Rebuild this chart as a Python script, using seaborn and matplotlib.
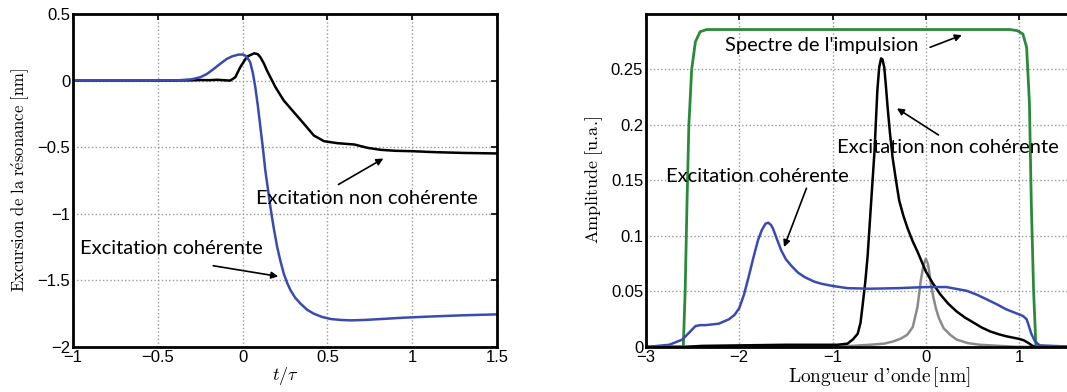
import numpy as np
import pandas as pd
import seaborn as sns
from matplotlib import pyplot as plt

# Excursion de la résonance (panneau de gauche)
t_noncoh = [-1.0, -0.5, -0.3, -0.25, -0.2, -0.15, -0.1, -0.073, -0.043, -0.014, 0.026, 0.069, 0.09, 0.105,
            0.125, 0.144, 0.17, 0.194, 0.243, 0.302, 0.362, 0.42, 0.48, 0.56, 0.66, 0.737, 0.816, 0.9,
            1.0, 1.13, 1.3, 1.5]
y_noncoh = [0.0, 0.0, 0.002, 0.004, 0.003, 0.006, 0.002, 0.0, 0.025, 0.1, 0.18, 0.205, 0.198, 0.175,
            0.13, 0.075, 0.01, -0.05, -0.15, -0.237, -0.325, -0.412, -0.455, -0.47, -0.48, -0.505, -0.52, -0.527,
            -0.53, -0.537, -0.543, -0.547]
t_coh = [-1.0, -0.5, -0.37, -0.3, -0.25, -0.21, -0.17, -0.13, -0.093, -0.06, -0.024, 0.0, 0.016, 0.03,
         0.045, 0.06, 0.075, 0.09, 0.105, 0.12, 0.134, 0.15, 0.164, 0.184, 0.204, 0.224, 0.243, 0.263,
         0.283, 0.31, 0.342, 0.38, 0.42, 0.47, 0.52, 0.58, 0.64, 0.72, 0.816, 0.95, 1.13, 1.3, 1.5]
y_coh = [0.0, 0.0, 0.003, 0.01, 0.025, 0.05, 0.088, 0.128, 0.163, 0.183, 0.195, 0.196, 0.188, 0.168,
         0.137, 0.06, -0.05, -0.19, -0.35, -0.51, -0.675, -0.82, -0.95, -1.11, -1.25, -1.36, -1.45, -1.52,
         -1.575, -1.63, -1.675, -1.72, -1.75, -1.775, -1.79, -1.797, -1.8, -1.797, -1.79, -1.78, -1.77, -1.762, -1.755]

# Spectres (panneau de droite)
l_impulsion = [-3.0, -2.6, -2.58, -2.56, -2.54, -2.51, -2.47, -2.42, -2.35, -2.2, 0.9, 0.98, 1.04, 1.08,
               1.11, 1.13, 1.155, 1.18, 2.0]
a_impulsion = [0.0, 0.0, 0.05, 0.13, 0.2, 0.25, 0.275, 0.284, 0.286, 0.286, 0.286, 0.285, 0.282, 0.27,
               0.22, 0.13, 0.05, 0.0, 0.0]
l_noncoh = [-3.0, -2.6, -2.4, -1.5, -0.95, -0.84, -0.78, -0.73, -0.7, -0.68, -0.65, -0.625, -0.59, -0.55,
            -0.52, -0.5, -0.48, -0.465, -0.446, -0.43, -0.41, -0.385, -0.357, -0.32, -0.286, -0.24, -0.196,
            -0.14, -0.09, -0.04, 0.0, 0.07, 0.153, 0.24, 0.33, 0.42, 0.51, 0.6, 0.69, 0.78, 0.86, 0.93,
            1.0, 1.05, 1.1, 1.14, 1.17, 2.0]
a_noncoh = [0.0, 0.0, 0.001, 0.002, 0.002, 0.003, 0.007, 0.012, 0.022, 0.036, 0.058, 0.081, 0.126, 0.177,
            0.231, 0.252, 0.26, 0.259, 0.252, 0.237, 0.216, 0.193, 0.171, 0.15, 0.132, 0.118, 0.107,
            0.095, 0.086, 0.076, 0.068, 0.058, 0.0476, 0.039, 0.032, 0.0265, 0.022, 0.0175, 0.014, 0.0115, 0.0097, 0.0085,
            0.0073, 0.006, 0.0036, 0.0012, 0.0, 0.0]
l_coh = [-3.0, -2.75, -2.61, -2.54, -2.47, -2.42, -2.36, -2.22, -2.11, -2.05, -2.0, -1.95, -1.9, -1.85,
         -1.8, -1.76, -1.72, -1.69, -1.66, -1.64, -1.6, -1.55, -1.5, -1.44, -1.37, -1.3, -1.2, -1.12, -1.0,
         -0.84, -0.6, -0.3, 0.0, 0.22, 0.44, 0.55, 0.65, 0.76, 0.86, 0.95, 1.04, 1.08, 1.1, 1.13, 1.17,
         1.22, 1.35, 1.47, 2.0]
a_coh = [0.0, 0.002, 0.0067, 0.0127, 0.0188, 0.0197, 0.0197, 0.021, 0.025, 0.029, 0.035, 0.047, 0.063, 0.08,
         0.096, 0.105, 0.111, 0.112, 0.11, 0.107, 0.098, 0.087, 0.079, 0.073, 0.067, 0.063, 0.059, 0.057, 0.055,
         0.053, 0.0525, 0.053, 0.054, 0.054, 0.0506, 0.047, 0.043, 0.0385, 0.034, 0.031, 0.028, 0.025, 0.02, 0.012, 0.005,
         0.0015, 0.001, 0.0006, 0.0]
l_reson = [-3.0, -0.8, -0.6, -0.45, -0.35, -0.27, -0.2, -0.14, -0.09, -0.054, -0.025, 0.0, 0.025, 0.054,
           0.08, 0.107, 0.14, 0.19, 0.26, 0.33, 0.45, 0.58, 0.94, 1.2, 2.0]
a_reson = [0.0, 0.001, 0.002, 0.003, 0.005, 0.0075, 0.011, 0.018, 0.036, 0.06, 0.074, 0.0796, 0.074, 0.057,
           0.045, 0.035, 0.026, 0.017, 0.011, 0.0067, 0.0035, 0.002, 0.0003, 0.0, 0.0]

bleu = "#3a4bb0"
vert = "#2a8a3a"
gris = "#8a8a8a"

sns.set_style("white")
plt.rcParams["mathtext.fontset"] = "cm"
plt.rcParams["font.family"] = ["Liberation Sans", "DejaVu Sans"]
plt.rcParams["text.color"] = "black"
plt.rcParams["axes.labelcolor"] = "black"

fig = plt.figure(figsize=(10.67, 3.92), dpi=100)
axG = fig.add_axes([0.0684, 0.1148, 0.3974, 0.8495])
axD = fig.add_axes([0.6054, 0.1148, 0.4372, 0.8495])

sns.lineplot(data=pd.DataFrame({"t": t_noncoh, "y": y_noncoh}), x="t", y="y", ax=axG, color="black", lw=1.8)
sns.lineplot(data=pd.DataFrame({"t": t_coh, "y": y_coh}), x="t", y="y", ax=axG, color=bleu, lw=1.8)

sns.lineplot(data=pd.DataFrame({"l": l_impulsion, "a": a_impulsion}), x="l", y="a", ax=axD, color=vert, lw=2.0)
sns.lineplot(data=pd.DataFrame({"l": l_reson, "a": a_reson}), x="l", y="a", ax=axD, color=gris, lw=1.8)
sns.lineplot(data=pd.DataFrame({"l": l_noncoh, "a": a_noncoh}), x="l", y="a", ax=axD, color="black", lw=1.8)
sns.lineplot(data=pd.DataFrame({"l": l_coh, "a": a_coh}), x="l", y="a", ax=axD, color=bleu, lw=1.8)

for ax in (axG, axD):
    ax.grid(True, color="#999999", linestyle=":", linewidth=1.0)
    for s in ax.spines.values():
        s.set_color("black")
        s.set_linewidth(2.0)
    ax.tick_params(direction="in", length=4, width=1.2, top=True, right=True, labelsize=12, pad=2,
                   color="black", labelcolor="black")

axG.set_xlim(-1, 1.5)
axG.set_ylim(-2, 0.5)
axG.set_xticks([-1, -0.5, 0, 0.5, 1, 1.5])
axG.set_xticklabels(["\u22121", "\u22120.5", "0", "0.5", "1", "1.5"])
axG.set_yticks([-2, -1.5, -1, -0.5, 0, 0.5])
axG.set_yticklabels(["\u22122", "\u22121.5", "\u22121", "\u22120.5", "0", "0.5"])
axG.set_xlabel(r"$t/\tau$", fontsize=13, labelpad=0)
axG.set_ylabel(r"$\mathrm{Excursion\ de\ la\ r\acute{e}sonance\ [nm]}$", fontsize=12, labelpad=4)

axD.set_xlim(-3, 2)
axD.set_ylim(0, 0.3)
axD.set_xticks([-3, -2, -1, 0, 1])
axD.set_xticklabels(["\u22123", "\u22122", "\u22121", "0", "1"])
axD.set_yticks([0, 0.05, 0.1, 0.15, 0.2, 0.25])
axD.set_yticklabels(["0", "0.05", "0.1", "0.15", "0.2", "0.25"])
axD.set_xlabel(r"$\mathrm{Longueur\ d\text{'}onde\,[nm]}$", fontsize=14, labelpad=0)
axD.set_ylabel(r"$\mathrm{Amplitude}\ \text{[u.a.]}$", fontsize=13, labelpad=4)

police = dict(fontsize=14.5, family=["Lato", "DejaVu Sans"], va="center", color="black")
fleche = dict(arrowstyle="-|>", color="black", lw=1.2, mutation_scale=10, shrinkA=0, shrinkB=0)

axG.text(0.08, -0.885, "Excitation non cohérente", **police)
axG.annotate("", xy=(0.83, -0.585), xytext=(0.565, -0.78), arrowprops=fleche)
axG.text(-0.96, -1.26, "Excitation cohérente", **police)
axG.annotate("", xy=(0.21, -1.47), xytext=(-0.173, -1.39), arrowprops=fleche)

axD.text(-2.15, 0.272, "Spectre de l'impulsion", **police)
axD.annotate("", xy=(0.386, 0.281), xytext=(0.046, 0.27), arrowprops=fleche)
axD.text(-0.955, 0.18, "Excitation non cohérente", **police)
axD.annotate("", xy=(-0.31, 0.215), xytext=(0.135, 0.191), arrowprops=fleche)
axD.text(-2.785, 0.154, "Excitation cohérente", **police)
axD.annotate("", xy=(-1.52, 0.09), xytext=(-1.28, 0.143), arrowprops=fleche)

fig.savefig("out.png", dpi=100)
